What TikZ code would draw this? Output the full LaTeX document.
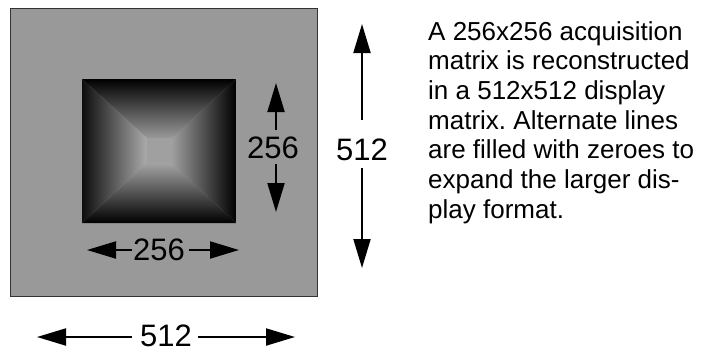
\documentclass[tikz,border=0pt]{standalone}
\usepackage{fontspec}
\setmainfont{Liberation Sans}
\usetikzlibrary{arrows.meta}
\definecolor{bg}{HTML}{999999}
\definecolor{ctr}{HTML}{A0A0A0}
\frenchspacing
\begin{document}
\begin{tikzpicture}[x=1pt,y=-1pt,
  dimarrow/.style={line width=2pt,-{Triangle[length=29pt,width=17pt]}},
  lbl/.style={inner sep=0pt,font=\fontsize{31}{31}\selectfont},
  desc/.style={inner sep=0pt,anchor=north west,align=left,font=\fontsize{26}{29.7}\selectfont}]
\useasboundingbox (0,0) rectangle (703,351);
% outer display matrix
\path[fill=bg,draw=black!80,line width=1pt] (10,8) rectangle (317,296);
% inner acquisition matrix (pyramid shading)
\shade[top color=black,bottom color=black!40!white] (82,79) -- (236,79) -- (172,138) -- (147,138) -- cycle;
\shade[bottom color=black,top color=black!36!white] (82,223) -- (236,223) -- (172,163) -- (147,163) -- cycle;
\shade[left color=black!95,right color=black!33!white] (82,79) -- (147,138) -- (147,163) -- (82,223) -- cycle;
\shade[right color=black,left color=black!38!white] (236,79) -- (172,138) -- (172,163) -- (236,223) -- cycle;
\fill[ctr] (147,138) rectangle (172,163);
% 256 vertical
\node[lbl] (v256) at (273,148) {256};
\coordinate (v256a) at (276,130);
\coordinate (v256t) at (276,83);
\coordinate (v256b) at (276,164);
\coordinate (v256u) at (276,212);
\draw[dimarrow] (v256a) -- (v256t);
\draw[dimarrow] (v256b) -- (v256u);
% 256 horizontal
\node[lbl] (h256) at (159,250) {256};
\coordinate (h256a) at (132,250);
\coordinate (h256l) at (87,250);
\coordinate (h256b) at (189,250);
\coordinate (h256r) at (239,250);
\draw[dimarrow] (h256a) -- (h256l);
\draw[dimarrow] (h256b) -- (h256r);
% 512 vertical
\node[lbl] (v512) at (362,150) {512};
\coordinate (v512a) at (362,120);
\coordinate (v512t) at (362,24);
\coordinate (v512b) at (362,168);
\coordinate (v512u) at (362,268);
\draw[dimarrow] (v512a) -- (v512t);
\draw[dimarrow] (v512b) -- (v512u);
% 512 horizontal
\node[lbl] (h512) at (166,336) {512};
\coordinate (h512a) at (132,337);
\coordinate (h512l) at (37,337);
\coordinate (h512b) at (198,337);
\coordinate (h512r) at (295,337);
\draw[dimarrow] (h512a) -- (h512l);
\draw[dimarrow] (h512b) -- (h512r);
% description
\node[desc] (txt) at (428,21) {A 256x256 acquisition\\matrix is reconstructed\\in a 512x512 display\\matrix. Alternate lines\\are filled with zeroes to\\expand the larger dis-\\play format.};
\end{tikzpicture}
\end{document}
